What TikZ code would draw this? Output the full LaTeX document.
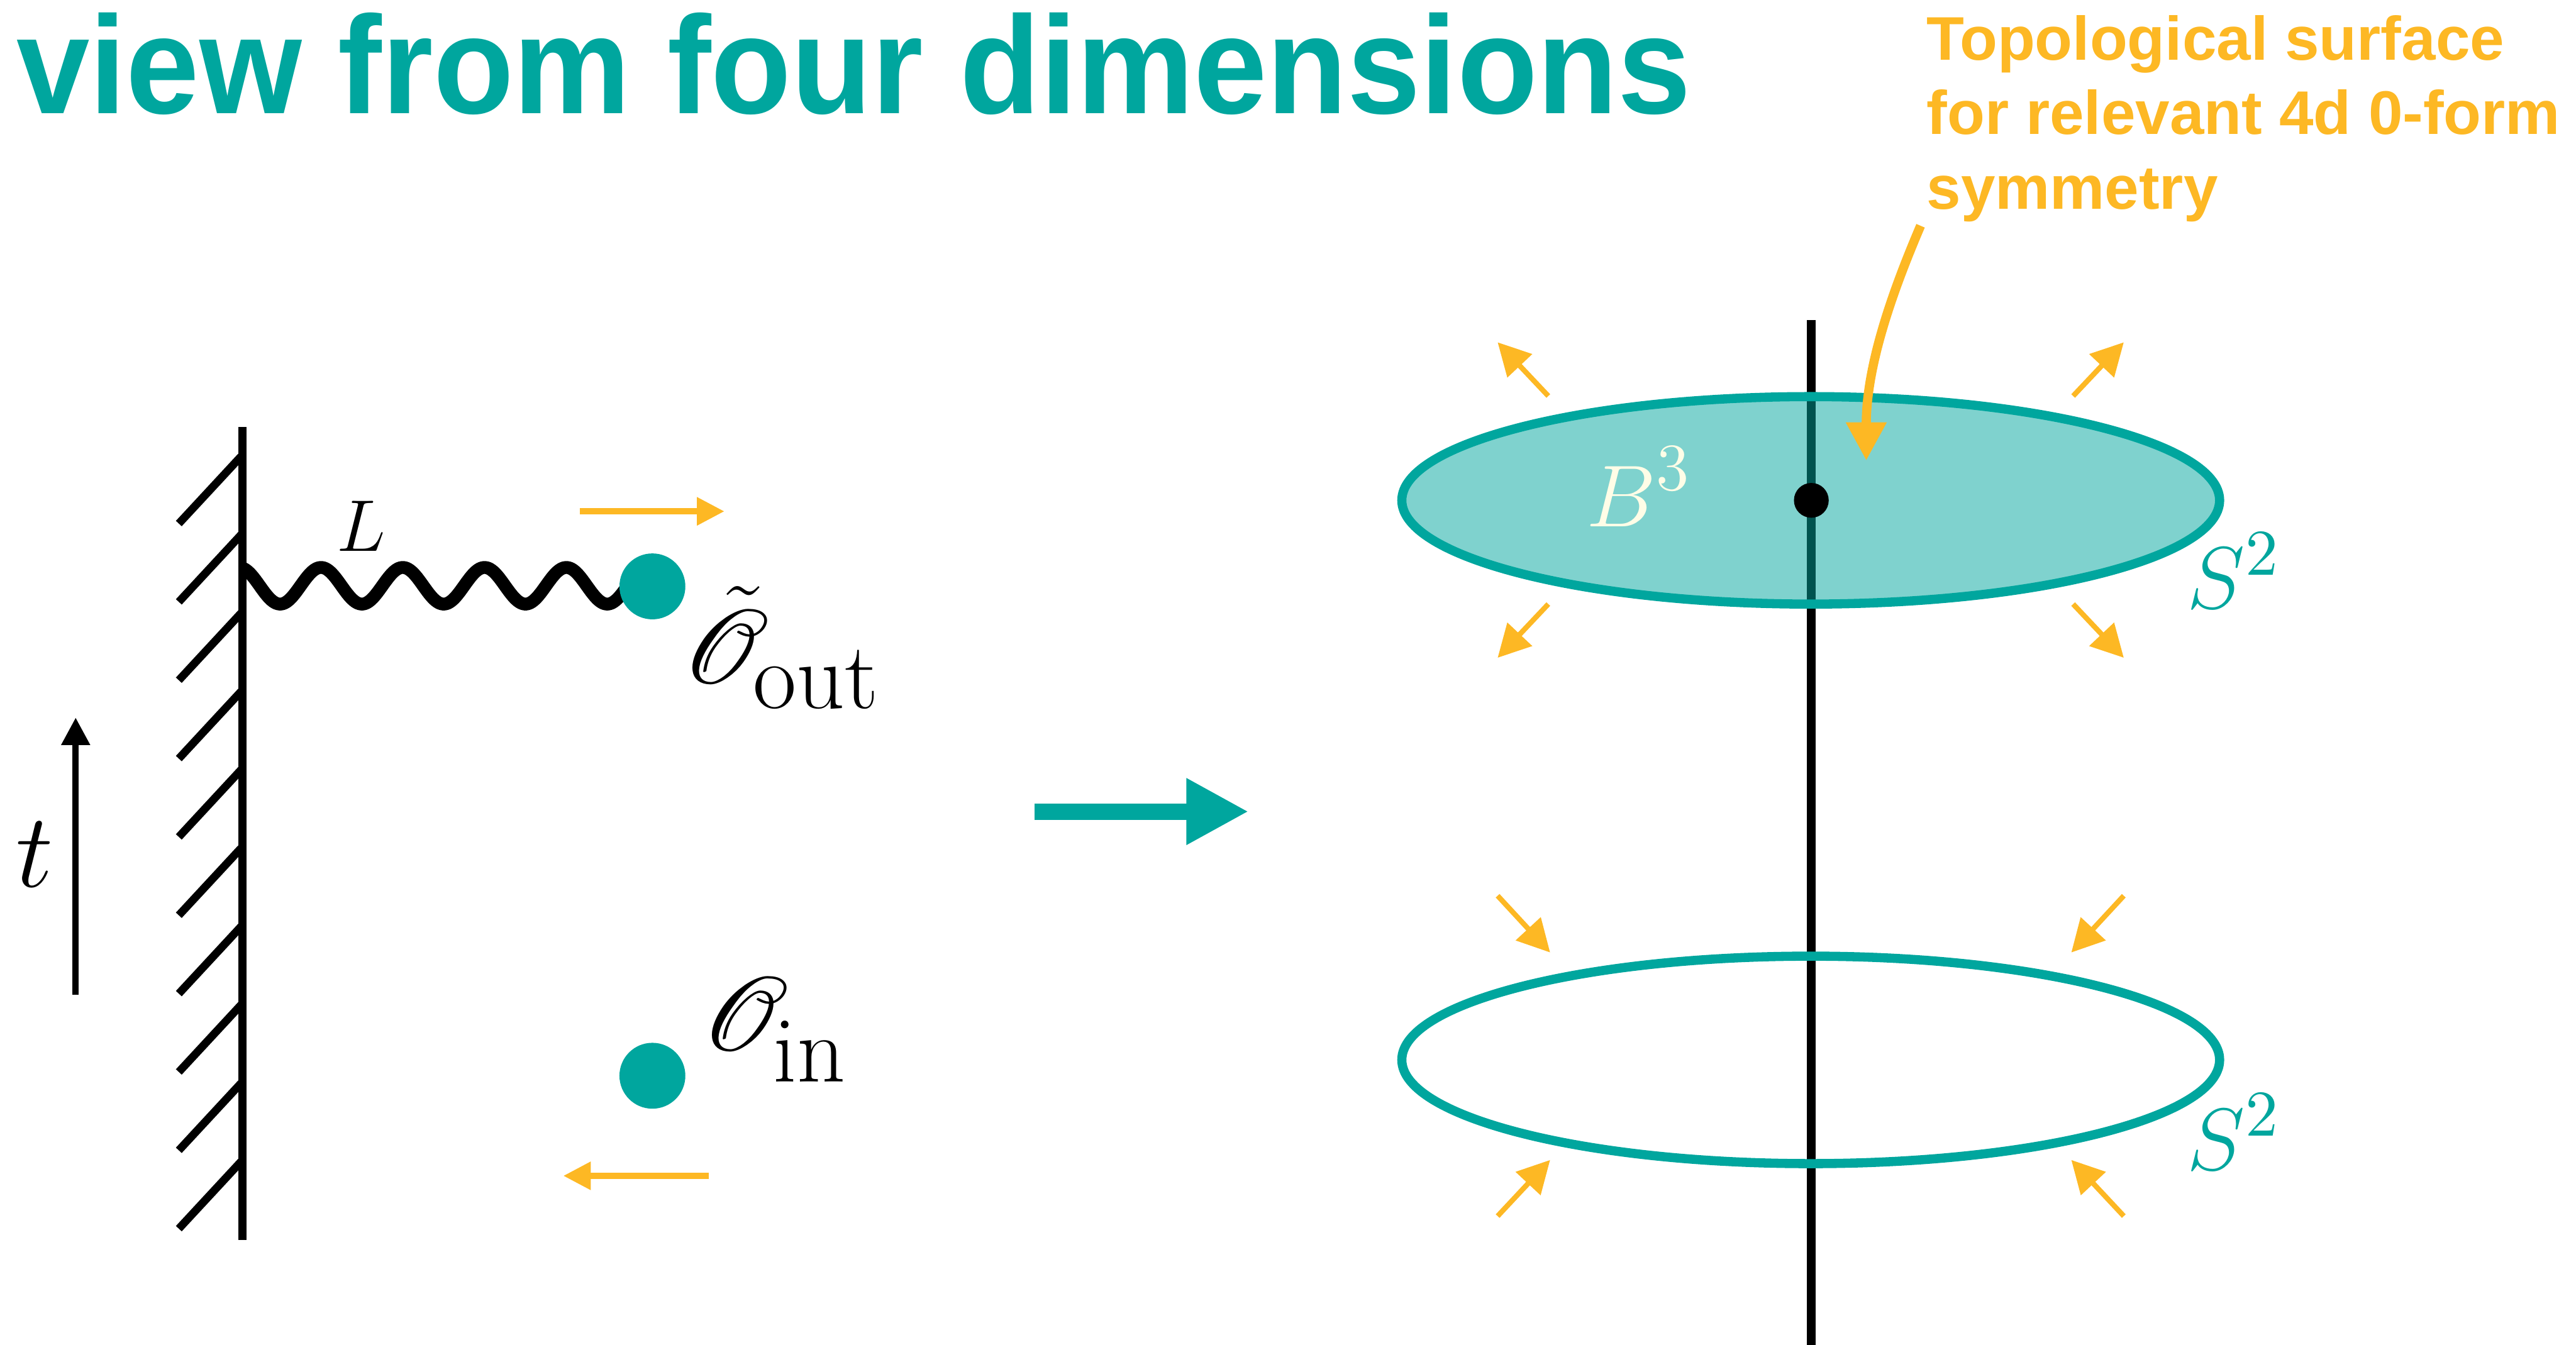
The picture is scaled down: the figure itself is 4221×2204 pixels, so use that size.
\documentclass[tikz,border=0pt]{standalone}
\usepackage{fontspec}
\usepackage{amsmath}
\usepackage{mathrsfs}
\usetikzlibrary{arrows.meta}
\newfontfamily\headfont{Liberation Sans}
\definecolor{teal4}{RGB}{0,166,158}
\definecolor{orng}{RGB}{253,184,36}
\definecolor{ivory}{RGB}{255,253,231}
\tikzset{
  lbl/.style={inner sep=0pt, outer sep=0pt},
  orangetxt/.style={lbl, anchor=base west, text=orng, font=\headfont\bfseries\fontsize{10.1pt}{12pt}\selectfont},
  smallarr/.style={draw=orng, line width=0.85pt, -{Triangle[length=5.3pt,width=5.4pt]}},
  lefarr/.style={draw=orng, line width=1pt, -{Triangle[length=4.5pt,width=4.4pt]}},
  sphere/.style={draw=teal4, line width=1.5pt},
  wall/.style={line width=1.3pt, line cap=butt},
  tdot/.style={circle, fill=teal4, minimum size=10.8pt, inner sep=0pt},
}
\begin{document}
\begin{tikzpicture}[x=0.1pt, y=-0.1pt]
\useasboundingbox (0,0) rectangle (4221,2204);

% title
\node[lbl, anchor=base west, text=teal4] (title) at (27,186)
  {\scalebox{0.946}[1]{\headfont\bfseries\fontsize{22.8pt}{26pt}\selectfont view from four dimensions}};

% orange annotation
\node[orangetxt] (ann1) at (3157,98) {Topological surface};
\node[orangetxt] (ann2) at (3157,220) {for relevant 4d 0-form};
\node[orangetxt] (ann3) at (3157,343) {symmetry};

% ---------------- left: wall ----------------
\coordinate (wallTop) at (397,700);
\coordinate (wallBot) at (397,2032);
\draw[wall] (wallTop) -- (wallBot);
\foreach \k in {0,...,9}{
  \coordinate (h\k) at (395,{748+128.4*\k});
  \draw[wall] (h\k) -- ++(-102,110);
}

% time arrow
\coordinate (tA) at (124,1630);
\coordinate (tB) at (124,1176);
\draw[line width=1pt, -{Triangle[length=4.5pt,width=4.5pt]}] (tA) -- (tB);
\node[lbl, anchor=base] (tlab) at (57,1454) {\fontsize{16pt}{18pt}\selectfont$t$};

% wavy string
\coordinate (wallS) at (397,931);
\draw[line width=2.1pt, line join=round] plot[domain=397:1069, samples=300, smooth] (\x,{960-30*cos((\x-392)*2.6866)});
\node[lbl, anchor=base] (Llab) at (592,903) {\fontsize{11.6pt}{14pt}\selectfont$L$};

% operators
\node[tdot] (dout) at (1069,961) {};
\node[tdot] (din) at (1069,1763) {};
\node[lbl, anchor=base west] (oout) at (1119,1121)
  {\fontsize{16.5pt}{18pt}\selectfont$\tilde{\mathscr{O}}$\hspace{-2.6pt}\raisebox{-4pt}{\fontsize{15.5pt}{18pt}\selectfont out}};
\node[lbl, anchor=base west] (oin) at (1151,1723)
  {\fontsize{16.5pt}{18pt}\selectfont$\mathscr{O}$\hspace{-2.5pt}\raisebox{-5pt}{\fontsize{15.5pt}{18pt}\selectfont in}};

% orange motion arrows
\coordinate (m1a) at (950,838);
\coordinate (m1b) at (1187,838);
\draw[lefarr] (m1a) -- (m1b);
\coordinate (m2a) at (1161,1927);
\coordinate (m2b) at (923,1927);
\draw[lefarr] (m2a) -- (m2b);

% ---------------- middle arrow ----------------
\coordinate (bigA) at (1695,1330);
\coordinate (bigB) at (2046,1330);
\draw[draw=teal4, line width=2.7pt, -{Triangle[length=10.2pt,width=10.2pt]}] (bigA) -- (bigB);

% ---------------- right: 4d view ----------------
\coordinate (lineTop) at (2968,525);
\coordinate (lineBot) at (2968,2204);
\draw[line width=1.5pt] (lineTop) -- (lineBot);

\coordinate (c1) at (2967,820);
\coordinate (c2) at (2967,1737);
\fill[teal4, fill opacity=0.5] (c1) ellipse [x radius=670, y radius=170];
\draw[sphere] (c1) ellipse [x radius=670, y radius=170];
\draw[sphere] (c2) ellipse [x radius=670, y radius=170];
\node[circle, fill=black, minimum size=5.7pt, inner sep=0pt] (pt) at (2968,820) {};

\node[lbl, anchor=base west, text=ivory] (B3) at (2599,863)
  {\fontsize{14pt}{16pt}\selectfont$B$\raisebox{6pt}{\fontsize{11pt}{12pt}\selectfont 3}};
\node[lbl, anchor=base west, text=teal4] (S2a) at (3584,997)
  {\fontsize{13.8pt}{16pt}\selectfont$S$\raisebox{5.5pt}{\fontsize{10.7pt}{12pt}\selectfont 2}};
\node[lbl, anchor=base west, text=teal4] (S2b) at (3584,1917)
  {\fontsize{13.8pt}{16pt}\selectfont$S$\raisebox{5.5pt}{\fontsize{10.7pt}{12pt}\selectfont 2}};

% outward arrows (top sphere)
\coordinate (a1t) at (2537,649);  \coordinate (a1h) at (2454,561);
\coordinate (a2t) at (3397,649);  \coordinate (a2h) at (3480,561);
\coordinate (a3t) at (2537,990);  \coordinate (a3h) at (2454,1078);
\coordinate (a4t) at (3397,990);  \coordinate (a4h) at (3480,1078);
\draw[smallarr] (a1t) -- (a1h);
\draw[smallarr] (a2t) -- (a2h);
\draw[smallarr] (a3t) -- (a3h);
\draw[smallarr] (a4t) -- (a4h);
% inward arrows (bottom sphere)
\coordinate (b1t) at (2454,1468); \coordinate (b1h) at (2540,1561);
\coordinate (b2t) at (3480,1468); \coordinate (b2h) at (3394,1561);
\coordinate (b3t) at (2454,1993); \coordinate (b3h) at (2540,1901);
\coordinate (b4t) at (3480,1993); \coordinate (b4h) at (3394,1901);
\draw[smallarr] (b1t) -- (b1h);
\draw[smallarr] (b2t) -- (b2h);
\draw[smallarr] (b3t) -- (b3h);
\draw[smallarr] (b4t) -- (b4h);

% annotation arrow
\coordinate (annS) at (3147,370);
\coordinate (annE) at (3058,755);
\draw[draw=orng, line width=1.5pt, -{Triangle[length=6.3pt,width=6.3pt]}]
  (annS) .. controls (3100,480) and (3058,600) .. (annE);
\end{tikzpicture}
\end{document}
